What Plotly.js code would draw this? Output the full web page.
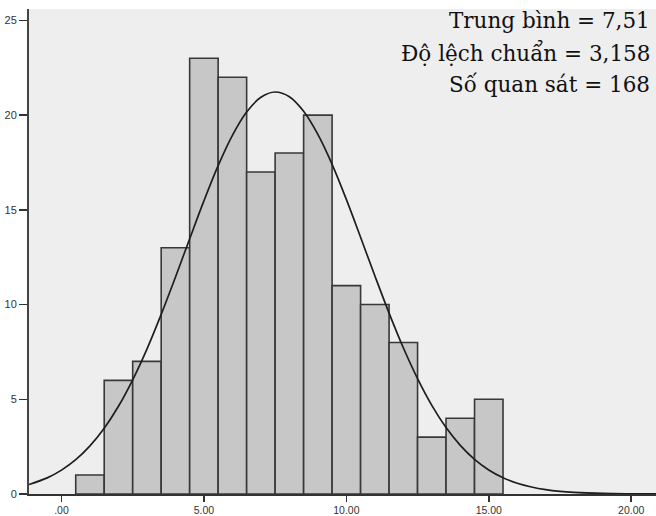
<!DOCTYPE html>
<html>
<head>
<meta charset="utf-8">
<script src="https://cdn.plot.ly/plotly-3.0.1.min.js"></script>
<style>html,body{margin:0;padding:0;background:#fff;}#chart{width:656px;height:516px;}</style>
</head>
<body>
<div id="chart"></div>
<script>
// Histogram bins (centres) and counts
const binCenters = [1, 2, 3, 4, 5, 6, 7, 8, 9, 10, 11, 12, 13, 14, 15];
const counts = [1, 6, 7, 13, 23, 22, 17, 18, 20, 11, 10, 8, 3, 4, 5];

// Normal curve
const curveX = [-1.14, -0.5, 0, 0.5, 1, 1.5, 2, 2.5, 3, 3.5, 4, 4.5, 5, 5.5, 6, 6.5, 7, 7.5, 8, 8.5, 9, 9.5, 10, 10.5, 11, 11.5, 12, 12.5, 13, 13.5, 14, 14.5, 15, 15.5, 16, 16.5, 17, 17.5, 18, 19, 20, 20.87];
const curveY = [0.50, 0.85, 1.26, 1.81, 2.54, 3.47, 4.63, 6.03, 7.65, 9.48, 11.44, 13.47, 15.47, 17.33, 18.93, 20.16, 20.94, 21.22, 20.97, 20.20, 18.98, 17.40, 15.55, 13.55, 11.52, 9.55, 7.72, 6.09, 4.68, 3.51, 2.57, 1.83, 1.27, 0.86, 0.57, 0.37, 0.23, 0.14, 0.085, 0.028, 0.009, 0.002];

const xTickVals = [0, 5, 10, 15, 20];
const xTickText = [".00", "5.00", "10.00", "15.00", "20.00"];
const yTickVals = [0, 5, 10, 15, 20, 25];
const yTickText = ["0", "5", "10", "15", "20", "25"];

const statLines = ["Trung bình = 7,51", "Độ lệch chuẩn = 3,158", "Số quan sát = 168"];

const traces = [
  {
    type: "bar",
    x: binCenters,
    y: counts,
    width: 1,
    marker: { color: "#c7c7c7", line: { color: "#383838", width: 1.6 } },
    hoverinfo: "none"
  },
  {
    type: "scatter",
    mode: "lines",
    x: curveX,
    y: curveY,
    line: { color: "#1e1e1e", width: 1.7, shape: "spline" },
    hoverinfo: "none"
  }
];

const statY = [20, 52, 84];
const annotations = statLines.map((t, i) => ({
  xref: "paper", yref: "paper",
  x: 1, xanchor: "right", xshift: -4,
  y: 1 - (statY[i] - 9) / 485, yanchor: "middle",
  text: t, showarrow: false,
  font: { family: "DejaVu Serif, Liberation Serif, serif", size: 21.5, color: "#111" }
}));

const layout = {
  width: 656, height: 516,
  margin: { l: 29, r: 0, t: 9, b: 22, pad: 0 },
  paper_bgcolor: "#ffffff",
  plot_bgcolor: "#eeeeee",
  showlegend: false,
  bargap: 0,
  xaxis: {
    range: [-1.14, 20.87],
    tickmode: "array", tickvals: xTickVals, ticktext: xTickText,
    ticks: "outside", ticklen: 6, tickwidth: 1.5, tickcolor: "#333",
    showgrid: false, zeroline: false,
    showline: true, linecolor: "#333", linewidth: 1.5,
    tickfont: { family: "Liberation Sans, Arial, sans-serif", size: 10.5, color: "#333" }
  },
  yaxis: {
    range: [0, 25.6],
    tickmode: "array", tickvals: yTickVals, ticktext: yTickText,
    ticks: "outside", ticklen: 8, tickwidth: 1.5, tickcolor: "#333",
    showgrid: false, zeroline: false,
    showline: true, linecolor: "#444", linewidth: 2,
    tickfont: { family: "Liberation Sans, Arial, sans-serif", size: 11, color: "#333" }
  },
  annotations: annotations
};

Plotly.newPlot("chart", traces, layout, { displayModeBar: false, staticPlot: true });
</script>
</body>
</html>
